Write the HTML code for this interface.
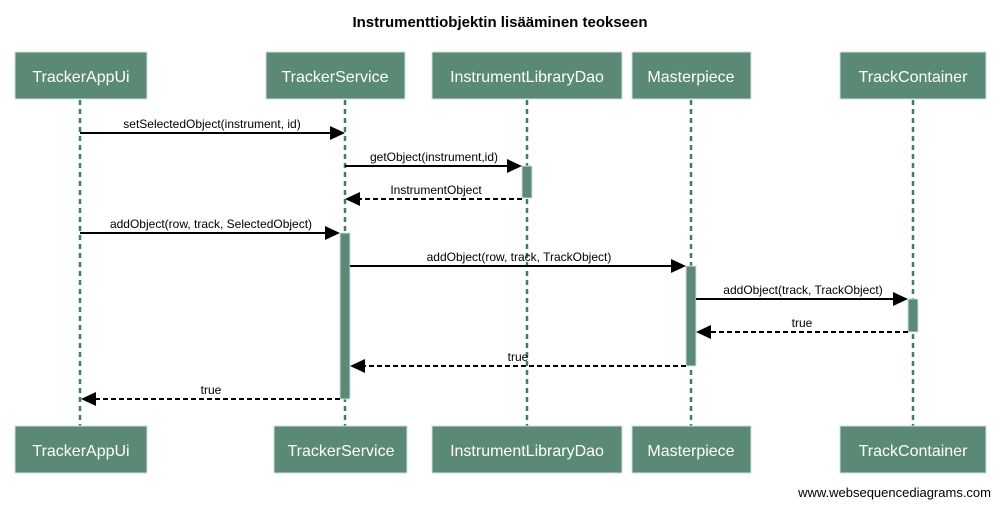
<!DOCTYPE html>
<html><head><meta charset="utf-8"><style>
body{margin:0;background:#fff}
svg{display:block}
text{font-family:"Liberation Sans",Arial,sans-serif}
.b{fill:#5a8a76;stroke:#cfe0d8;stroke-width:1}
.bt{fill:#fff;font-size:16px;text-anchor:middle}
.ll{stroke:#3f7d66;stroke-width:2.5;stroke-dasharray:5,4}
.a{fill:#5a8a76;stroke:#cfe0d8;stroke-width:1}
.m{stroke:#000;stroke-width:2}
.r{stroke:#000;stroke-width:2;stroke-dasharray:5,3}
.lb{font-size:12px;text-anchor:middle;fill:#000}
</style></head><body>
<svg width="1001" height="507" viewBox="0 0 1001 507">
<text x="500" y="27" font-size="15" font-weight="bold" text-anchor="middle">Instrumenttiobjektin lisääminen teokseen</text>
<g>
<line class="ll" x1="80" y1="100" x2="80" y2="426"/>
<line class="ll" x1="345" y1="100" x2="345" y2="426"/>
<line class="ll" x1="527" y1="100" x2="527" y2="426"/>
<line class="ll" x1="691" y1="100" x2="691" y2="426"/>
<line class="ll" x1="913" y1="100" x2="913" y2="426"/>
</g>
<g>
<rect class="b" x="15" y="52" width="132" height="47"/><text class="bt" x="81" y="82">TrackerAppUi</text>
<rect class="b" x="266" y="52" width="139" height="47"/><text class="bt" x="335" y="82">TrackerService</text>
<rect class="b" x="432" y="52" width="190" height="47"/><text class="bt" x="527" y="82">InstrumentLibraryDao</text>
<rect class="b" x="632" y="52" width="119" height="47"/><text class="bt" x="691" y="82">Masterpiece</text>
<rect class="b" x="840" y="52" width="146" height="47"/><text class="bt" x="913" y="82">TrackContainer</text>
<rect class="b" x="15" y="426" width="132" height="47"/><text class="bt" x="81" y="456">TrackerAppUi</text>
<rect class="b" x="274" y="426" width="133" height="47"/><text class="bt" x="341" y="456">TrackerService</text>
<rect class="b" x="432" y="426" width="190" height="47"/><text class="bt" x="527" y="456">InstrumentLibraryDao</text>
<rect class="b" x="632" y="426" width="119" height="47"/><text class="bt" x="691" y="456">Masterpiece</text>
<rect class="b" x="840" y="426" width="146" height="47"/><text class="bt" x="913" y="456">TrackContainer</text>
</g>
<rect class="a" x="522" y="166" width="10" height="32"/>
<rect class="a" x="340" y="233" width="10" height="166"/>
<rect class="a" x="686" y="266" width="10" height="100"/>
<rect class="a" x="908" y="299" width="10" height="33"/>
<g>
<line class="m" x1="80" y1="133" x2="332" y2="133"/><polygon points="345,133 330,126 330,140"/>
<text class="lb" x="212" y="128">setSelectedObject(instrument, id)</text>
<line class="m" x1="345" y1="166" x2="509" y2="166"/><polygon points="522,166 507,159 507,173"/>
<text class="lb" x="434" y="161">getObject(instrument,id)</text>
<line class="r" x1="522" y1="199" x2="358" y2="199"/><polygon points="345,199 360,192 360,206"/>
<text class="lb" x="436" y="194">InstrumentObject</text>
<line class="m" x1="80" y1="233" x2="327" y2="233"/><polygon points="340,233 325,226 325,240"/>
<text class="lb" x="211" y="228">addObject(row, track, SelectedObject)</text>
<line class="m" x1="350" y1="266" x2="673" y2="266"/><polygon points="686,266 671,259 671,273"/>
<text class="lb" x="519" y="261">addObject(row, track, TrackObject)</text>
<line class="m" x1="696" y1="299" x2="895" y2="299"/><polygon points="908,299 893,292 893,306"/>
<text class="lb" x="803" y="294">addObject(track, TrackObject)</text>
<line class="r" x1="908" y1="332" x2="709" y2="332"/><polygon points="696,332 711,325 711,339"/>
<text class="lb" x="802" y="327">true</text>
<line class="r" x1="686" y1="366" x2="363" y2="366"/><polygon points="350,366 365,359 365,373"/>
<text class="lb" x="518" y="361">true</text>
<line class="r" x1="340" y1="399" x2="94" y2="399"/><polygon points="81,399 96,392 96,406"/>
<text class="lb" x="211" y="394">true</text>
</g>
<text x="991" y="497" font-size="13" text-anchor="end">www.websequencediagrams.com</text>
</svg>
</body></html>
